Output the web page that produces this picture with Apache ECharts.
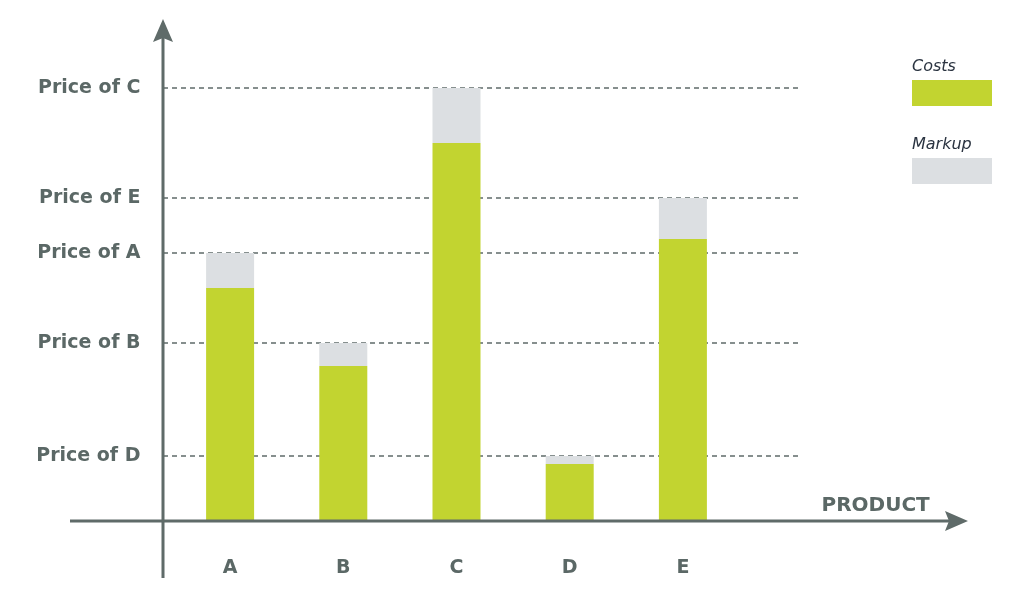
<html>
<head>
    <meta charset="utf-8">
    <title>Costs and markup</title>
    <script src="https://cdn.jsdelivr.net/npm/echarts@6/dist/echarts.min.js"></script>
    <style>
        html, body { margin: 0; padding: 0; background: #fff; }
        #main { width: 1023px; height: 600px; }
    </style>
</head>
<body>
<div id="main"></div>
<script>
    // data
    var products = ['A', 'B', 'C', 'D', 'E'];
    var costs = [233, 155, 378, 57, 282];
    var markup = [35, 23, 55, 8, 41];
    var priceValues = [65, 178, 268, 323, 433];
    var priceLabels = ['Price of D', 'Price of B', 'Price of A', 'Price of E', 'Price of C'];

    var axisColor = '#5f6b69';
    var textColor = '#5b6866';
    var labelFont = 'DejaVu Sans';

    var myChart = echarts.init(document.getElementById('main'));

    var option = {
        animation: false,
        grid: { left: 173.5, right: 283.5, top: 19, bottom: 79 },
        legend: {
            left: 907,
            top: 54,
            orient: 'vertical',
            icon: 'rect',
            itemWidth: 80,
            itemHeight: 26,
            itemGap: 29,
            data: ['Costs', 'Markup'],
            formatter: function (name) {
                return '{t|' + name + '}\n{gap| }';
            },
            textStyle: {
                padding: [0, 0, 0, -85],
                rich: {
                    t: {
                        fontFamily: labelFont,
                        fontStyle: 'italic',
                        fontSize: 16,
                        lineHeight: 20,
                        color: '#2b3441'
                    },
                    gap: { fontSize: 10, lineHeight: 52 }
                }
            }
        },
        xAxis: {
            type: 'category',
            data: products,
            axisLine: { show: false },
            axisTick: { show: false },
            axisLabel: {
                margin: 38,
                fontFamily: labelFont,
                fontWeight: 'bold',
                fontSize: 19,
                color: textColor
            },
            name: 'PRODUCT',
            nameLocation: 'end',
            nameGap: 82,
            nameTextStyle: {
                fontFamily: labelFont,
                fontWeight: 'bold',
                fontSize: 20,
                color: textColor,
                align: 'left',
                verticalAlign: 'bottom',
                padding: [0, 0, 5, 0]
            }
        },
        yAxis: {
            type: 'value',
            min: 0,
            max: 502,
            splitLine: { show: false },
            axisLine: { show: false },
            axisTick: { show: false },
            axisLabel: {
                customValues: priceValues,
                margin: 33,
                fontFamily: labelFont,
                fontWeight: 'bold',
                fontSize: 19,
                color: textColor,
                padding: [3, 0, 0, 0],
                formatter: function (v) {
                    var i = priceValues.indexOf(v);
                    return i >= 0 ? priceLabels[i] : '';
                }
            }
        },
        series: [
            {
                name: 'Costs',
                type: 'bar',
                stack: 'price',
                barWidth: 48,
                z: 3,
                itemStyle: { color: '#c2d430' },
                data: costs
            },
            {
                name: 'Markup',
                type: 'bar',
                stack: 'price',
                barWidth: 48,
                z: 3,
                itemStyle: { color: '#dcdfe2' },
                data: markup
            },
            {
                // helper series for dashed price lines
                name: 'priceLines',
                type: 'line',
                data: [],
                z: 1,
                markLine: {
                    z: 1,
                    silent: true,
                    symbol: 'none',
                    label: { show: false },
                    lineStyle: { color: axisColor, type: [5, 4], width: 1.5 },
                    data: priceValues.map(function (v) {
                        return [{ x: 163, yAxis: v }, { x: 800, yAxis: v }];
                    })
                }
            }
        ],
        graphic: [
            // y axis with arrow
            { type: 'line', z: 10, shape: { x1: 163, y1: 578, x2: 163, y2: 36 }, style: { stroke: axisColor, lineWidth: 3 } },
            { type: 'polygon', z: 10, shape: { points: [[163, 19], [153, 42], [163, 38], [173, 42]] }, style: { fill: axisColor } },
            // x axis with arrow
            { type: 'line', z: 10, shape: { x1: 70, y1: 521, x2: 952, y2: 521 }, style: { stroke: axisColor, lineWidth: 3 } },
            { type: 'polygon', z: 10, shape: { points: [[968, 521], [945, 511], [949, 521], [945, 531]] }, style: { fill: axisColor } }
        ]
    };

    myChart.setOption(option);
</script>
</body>
</html>
